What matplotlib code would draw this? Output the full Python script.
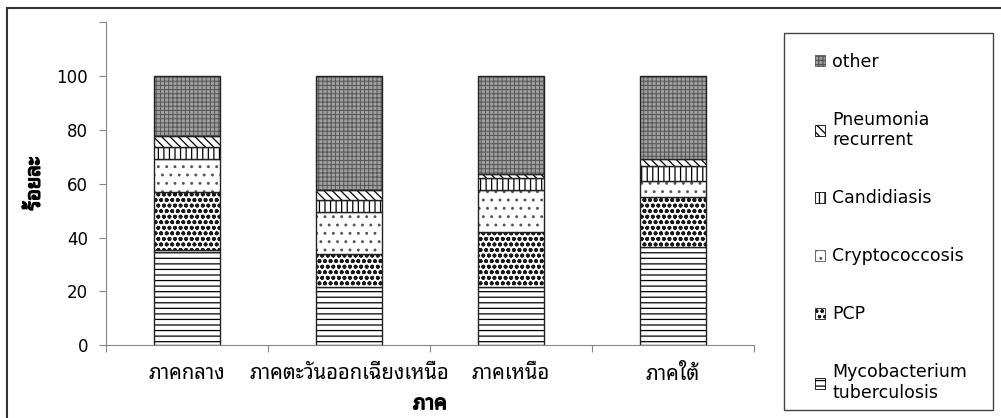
import numpy as np
import matplotlib
matplotlib.use('Agg')
import matplotlib.pyplot as plt
import matplotlib.patheffects as pe
from matplotlib.patches import Patch, Rectangle

# Latin text in DejaVu, Thai glyphs fall back to a looped Thai face
plt.rcParams['font.family'] = ['DejaVu Sans', 'Noto Sans Thai Looped']
plt.rcParams['hatch.linewidth'] = 0.9

regions = ['ภาคกลาง', 'ภาคตะวันออกเฉียงเหนือ', 'ภาคเหนือ', 'ภาคใต้']
tb = [35.5, 21.4, 21.4, 36.5]
pcp = [21.3, 12.4, 20.5, 18.6]
crypto = [12.5, 15.6, 15.7, 6.1]
candida = [4.4, 4.4, 4.5, 5.3]
pneumonia = [4.0, 3.8, 1.7, 2.8]
other = [22.3, 42.4, 36.2, 30.7]

# name, values, face, hatch, hatch colour, hatch width
series = [
    ('Mycobacterium\ntuberculosis', tb, 'white', '---', 'black', 0.9),
    ('PCP', pcp, 'white', 'ooo', '#1a1a1a', 1.2),
    ('Cryptococcosis', crypto, 'white', '..', '#555555', 0.9),
    ('Candidiasis', candida, 'white', '|||', 'black', 0.9),
    ('Pneumonia\nrecurrent', pneumonia, 'white', '\\\\\\\\', 'black', 0.9),
    ('other', other, '#a0a0a0', '++++', '#555555', 0.7),
]

fig = plt.figure(figsize=(10.01, 4.18), dpi=100)
ax = fig.add_axes([0.1059, 0.1746, 0.6474, 0.7716])

x = np.arange(len(regions))
bottom = np.zeros(len(regions))
handles = []
for name, vals, face, hatch, hcol, hlw in series:
    vals = np.array(vals)
    with plt.rc_context({'hatch.linewidth': hlw}):
        # fill + hatch first, then a plain black outline on top
        ax.bar(x, vals, 0.41, bottom=bottom, color=face, hatch=hatch,
               edgecolor=hcol, linewidth=0)
        handles.append(Patch(facecolor=face, hatch=hatch, edgecolor=hcol,
                             linewidth=0.6, label=name))
    ax.bar(x, vals, 0.41, bottom=bottom, fill=False,
           edgecolor='#222222', linewidth=1.0)
    bottom += vals

ax.set_xlim(-0.5, len(regions) - 0.5)
ax.set_ylim(0, 120)
ax.set_yticks(np.arange(0, 121, 20))
ax.set_yticklabels(['0', '20', '40', '60', '80', '100', ''])

# ticks sit between categories, labels in the middle
ax.set_xticks(np.arange(-0.5, len(regions), 1.0))
ax.set_xticklabels([])
ax.set_xticks(x, minor=True)
ax.set_xticklabels(regions, minor=True, fontsize=14.5)
ax.tick_params(axis='x', which='minor', length=0, pad=14)
ax.tick_params(axis='x', which='major', length=5, color='#868686')
ax.tick_params(axis='y', length=5, color='#868686', labelsize=12, pad=8)

for s in ['top', 'right']:
    ax.spines[s].set_visible(False)
for s in ['left', 'bottom']:
    ax.spines[s].set_color('#868686')

# the Thai face has no bold cut here, so thicken the strokes instead
bold = [pe.withStroke(linewidth=1.0, foreground='black')]
xl = ax.set_xlabel('ภาค', fontsize=14.5, labelpad=7)
yl = ax.set_ylabel('ร้อยละ', fontsize=14.5, labelpad=9)
xl.set_path_effects(bold)
yl.set_path_effects(bold)

# legend frame drawn separately so it can span the full height
fig.add_artist(Rectangle((784 / 1001, 1 - 410 / 418), 209 / 1001, 377 / 418,
                         transform=fig.transFigure, fill=False,
                         edgecolor='#444444', linewidth=1.0))
leg = fig.legend(handles=handles[::-1], loc='upper left',
                 bbox_to_anchor=(806 / 1001, 1 - 44 / 418),
                 frameon=False, fontsize=12.5, handlelength=0.6,
                 handleheight=0.6, handletextpad=0.4, labelspacing=2.3,
                 borderpad=0)

# outer chart border
fig.add_artist(Rectangle((7 / 1001, -0.1), 1.2, 1 - 7.5 / 418 + 0.1,
                         transform=fig.transFigure, fill=False,
                         edgecolor='#333333', linewidth=1.5))

fig.savefig('out.png', dpi=100)
